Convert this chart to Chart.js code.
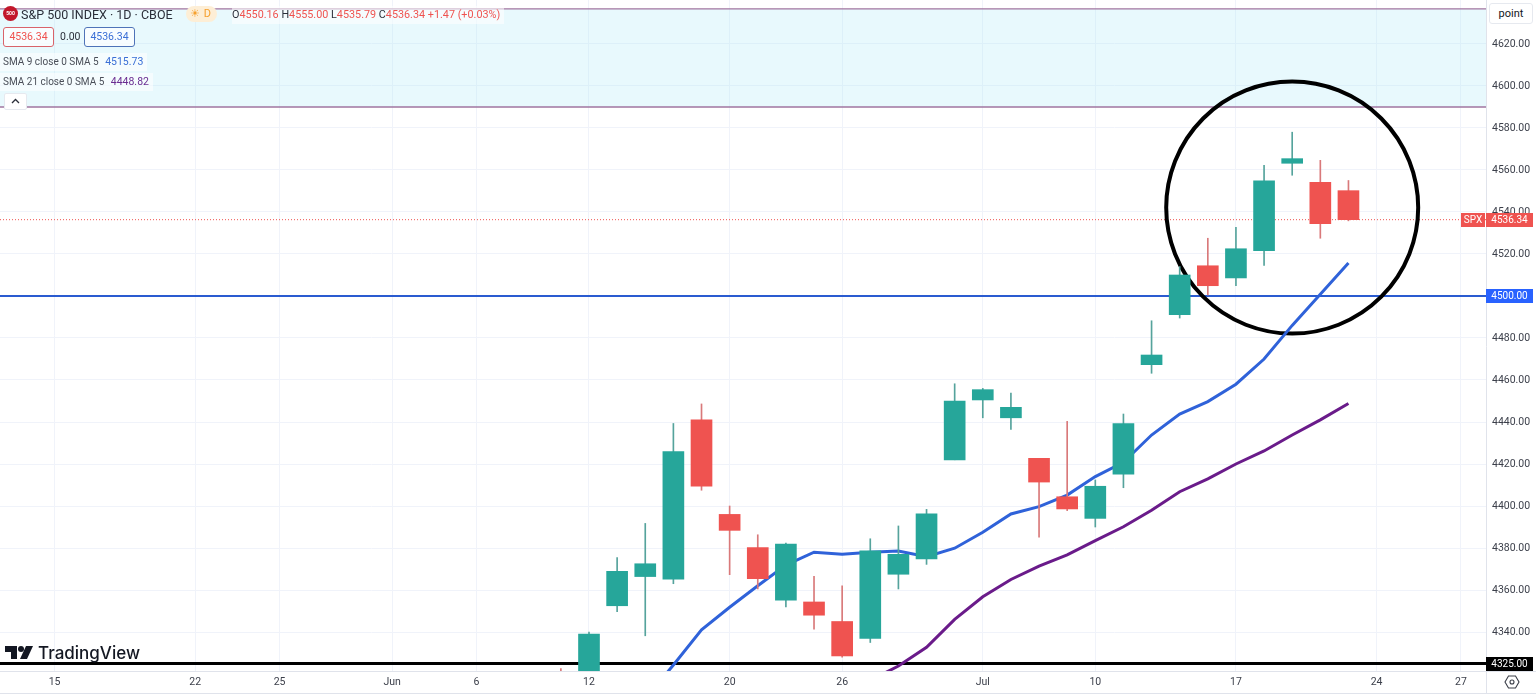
<!DOCTYPE html>
<html>
<head>
<meta charset="utf-8">
<title>S&amp;P 500 INDEX</title>
<script src="https://cdn.jsdelivr.net/npm/chart.js@4"></script>
<style>
  html, body { margin: 0; padding: 0; background: #fff; overflow: hidden; }
  body { width: 1536px; height: 695px; position: relative; font-family: Roboto, sans-serif; color: #131722; }
  #wrap { position: absolute; left: 0; top: 0; width: 1536px; height: 695px; }
  .abs { position: absolute; white-space: nowrap; }
  .row { background: rgba(255,255,255,0.55); font-size: 10px; line-height: 18px; height: 18px; padding: 0 4px 0 3px; color: #4a4e58; }
  .box { border: 1px solid; border-radius: 3px; height: 18px; line-height: 18px; font-size: 10.5px; text-align: center; background: rgba(255,255,255,0.7); }
  .red { color: #ef5350; }
</style>
</head>
<body>
<div id="wrap"><canvas id="chart" width="1536" height="695"></canvas></div>

<!-- 左上角圖例 -->
<div class="abs" style="left:3px;top:6px;width:15px;height:15px;border-radius:50%;background:#c2182b;color:#fff;font-size:5px;font-weight:700;line-height:15px;text-align:center;">500</div>
<div class="abs" style="left:21px;top:5px;font-size:12.5px;line-height:20px;color:#2a2e39;">S&amp;P 500 INDEX · 1D · CBOE</div>
<div class="abs" style="left:186px;top:6px;width:31px;height:16px;border-radius:8px;background:#fdeed6;color:#f6a02d;font-size:11px;line-height:16px;"><span style="margin-left:4px;">☀</span> <span style="margin-left:1px;">D</span></div>
<div class="abs" style="left:232px;top:6px;font-size:10.8px;line-height:18px;color:#2a2e39;background:rgba(255,255,255,0.55);padding-right:4px;">O<span class="red">4550.16</span> H<span class="red">4555.00</span> L<span class="red">4535.79</span> C<span class="red">4536.34</span> <span class="red">+1.47 (+0.03%)</span></div>
<div class="abs box red" style="left:3px;top:27px;width:49px;border-color:#d9636a;">4536.34</div>
<div class="abs" style="left:60px;top:27px;font-size:10.5px;line-height:20px;color:#2a2e39;">0.00</div>
<div class="abs box" style="left:84px;top:27px;width:49px;color:#3b6fd6;border-color:#4f73b8;">4536.34</div>
<div class="abs row" style="left:0;top:53px;">SMA 9 close 0 SMA 5 <span style="color:#3b6fd6;margin-left:4px;font-size:10.5px;">4515.73</span></div>
<div class="abs row" style="left:0;top:73px;">SMA 21 close 0 SMA 5 <span style="color:#6a2c91;margin-left:4px;font-size:10.5px;">4448.82</span></div>
<div class="abs" style="left:4px;top:93px;width:23px;height:17px;background:#fff;border:1px solid #e6e9ef;border-radius:2px;box-sizing:border-box;">
  <svg width="21" height="15"><path d="M7 9 L10.5 5.5 L14 9" fill="none" stroke="#2a2e39" stroke-width="1.3"/></svg>
</div>

<!-- 右上角單位與右下角設定 -->
<div class="abs" style="left:1489px;top:3px;width:44px;height:21px;border:1px solid #e6e9ef;border-radius:3px;box-sizing:border-box;font-size:11px;line-height:19px;text-align:center;background:#fff;">point</div>
<svg class="abs" style="left:1504px;top:674px;" width="16" height="16"><path d="M4.5 2 H11.5 L15 8 L11.5 14 H4.5 L1 8 Z" fill="none" stroke="#3a3e48" stroke-width="1.1"/><circle cx="8" cy="8" r="2" fill="none" stroke="#3a3e48" stroke-width="1.1"/></svg>

<!-- TradingView 標誌 -->
<svg class="abs" style="left:5px;top:645px;" width="30" height="16"><path d="M0 1 H12 V14 H6 V7 H0 Z" fill="#131722"/><circle cx="16" cy="4" r="3" fill="#131722"/><path d="M21 1 H28 L22 14 H15 Z" fill="#131722"/></svg>
<div class="abs" style="left:38px;top:641px;font-family:Inter,sans-serif;font-size:17px;font-weight:500;line-height:24px;color:#131722;">TradingView</div>

<script>
// ── 資料 ──
const categories = [
    'Jun 9', 'Jun 12', 'Jun 13', 'Jun 14', 'Jun 15', 'Jun 16', 'Jun 20', 'Jun 21', 'Jun 22', 'Jun 23',
    'Jun 26', 'Jun 27', 'Jun 28', 'Jun 29', 'Jun 30', 'Jul 3', 'Jul 5', 'Jul 6', 'Jul 7', 'Jul 10',
    'Jul 11', 'Jul 12', 'Jul 13', 'Jul 14', 'Jul 17', 'Jul 18', 'Jul 19', 'Jul 20', 'Jul 21'
];
const opens  = [4304.9, 4308.0, 4352.5, 4366.4, 4365.1, 4441.0, 4396.0, 4380.2, 4355.2, 4354.3,
                4345.0, 4337.0, 4367.5, 4374.8, 4422.0, 4450.5, 4442.0, 4422.7, 4404.4, 4394.1,
                4415.2, 4467.3, 4491.1, 4514.4, 4508.6, 4521.6, 4563.2, 4554.1, 4550.16];
const highs  = [4322.6, 4340.0, 4375.4, 4391.7, 4439.3, 4448.6, 4400.0, 4386.3, 4382.4, 4366.5,
                4362.0, 4384.4, 4390.5, 4398.4, 4458.2, 4456.0, 4453.8, 4422.7, 4440.3, 4412.4,
                4443.8, 4488.2, 4514.0, 4527.5, 4532.7, 4562.2, 4578.0, 4564.6, 4555.00];
const lows   = [4291.7, 4304.0, 4349.7, 4338.2, 4363.0, 4407.5, 4367.3, 4360.5, 4351.9, 4341.4,
                4328.0, 4335.0, 4360.5, 4372.2, 4422.0, 4442.0, 4436.5, 4385.2, 4397.8, 4390.0,
                4408.7, 4463.2, 4489.5, 4500.5, 4504.9, 4514.6, 4557.5, 4527.5, 4535.79];
const closes = [4298.9, 4339.0, 4368.9, 4372.5, 4425.9, 4409.5, 4388.4, 4365.4, 4381.9, 4348.0,
                4328.6, 4378.6, 4377.0, 4396.3, 4450.0, 4455.4, 4447.0, 4411.4, 4398.6, 4409.4,
                4439.2, 4471.9, 4510.0, 4504.9, 4522.5, 4554.9, 4565.4, 4534.4, 4536.34];
const sma9   = [null, null, null, 4308.0, 4324.3, 4341.0, 4351.8, 4362.0, 4371.9, 4378.0,
                4377.0, 4378.0, 4378.6, 4375.9, 4379.9, 4387.5, 4396.2, 4399.7, 4405.2, 4414.0,
                4420.8, 4433.8, 4443.8, 4449.7, 4458.0, 4470.0, 4486.0, 4500.8, 4515.73];
const sma21  = [null, null, null, null, null, null, null, null, null, null,
                null, 4317.0, 4323.8, 4332.7, 4346.0, 4356.8, 4365.0, 4371.4, 4376.7, 4383.5,
                4390.1, 4398.0, 4406.8, 4412.9, 4420.0, 4426.2, 4433.8, 4441.0, 4448.82];

const xTickLabels = ['15', '22', '25', 'Jun', '6', '12', '20', '26', 'Jul', '10', '17', '24', '27'];
const xTickSlots  = [-18, -13, -10, -6, -3, 1, 6, 10, 15, 19, 24, 29, 32];
const yTicks = [4340, 4360, 4380, 4400, 4420, 4440, 4460, 4480, 4500, 4520, 4540, 4560, 4580, 4600, 4620];

const bandLevels = [4590, 4636.7];
const blueLevel  = 4500;
const blackLevel = 4325;
const lastPrice  = 4536.34;

const UP = '#26a69a';
const DOWN = '#ef5350';
const WICK_UP = '#55a39c';
const WICK_DOWN = '#d9797a';
const slots = categories.map((_, i) => i);

// ── 背景圖層：區間、水平線、圓圈（畫在 K 線下方） ──
const backdrop = {
    id: 'backdrop',
    beforeDatasetsDraw(chart) {
        const { ctx, chartArea: a, scales: { x, y } } = chart;
        ctx.save();
        ctx.beginPath();
        ctx.rect(a.left, a.top, a.right - a.left, a.bottom - a.top);
        ctx.clip();

        const bandBottom = y.getPixelForValue(bandLevels[0]);
        const bandTop = y.getPixelForValue(bandLevels[1]);
        ctx.fillStyle = 'rgba(178, 235, 248, 0.3)';
        ctx.fillRect(a.left, bandTop, a.right - a.left, bandBottom - bandTop);

        const hline = (value, color, width, dash) => {
            const py = y.getPixelForValue(value);
            ctx.strokeStyle = color;
            ctx.lineWidth = width;
            ctx.setLineDash(dash || []);
            ctx.beginPath();
            ctx.moveTo(a.left, py);
            ctx.lineTo(a.right, py);
            ctx.stroke();
            ctx.setLineDash([]);
        };
        hline(bandLevels[0], '#a0749f', 1.5);
        hline(bandLevels[1], '#a0749f', 1.2);
        hline(lastPrice, DOWN, 1, [1, 2]);
        hline(blueLevel, '#2a5bd0', 2);
        hline(blackLevel, '#000', 3);

        // 圓圈
        const cx = x.getPixelForValue(26);
        const cy = y.getPixelForValue(4542.1);
        ctx.strokeStyle = '#000';
        ctx.lineWidth = 4;
        ctx.beginPath();
        ctx.arc(cx, cy, 126, 0, Math.PI * 2);
        ctx.stroke();
        ctx.restore();
    }
};

// ── 座標軸標籤與邊框 ──
const axisTags = {
    id: 'axisTags',
    afterDraw(chart) {
        const { ctx, chartArea: a, scales: { y } } = chart;
        ctx.save();
        ctx.strokeStyle = '#e0e3eb';
        ctx.lineWidth = 1;
        ctx.beginPath();
        ctx.moveTo(a.right + 0.5, 0);
        ctx.lineTo(a.right + 0.5, 693);
        ctx.moveTo(0, a.bottom + 0.5);
        ctx.lineTo(1536, a.bottom + 0.5);
        ctx.moveTo(0, 693.5);
        ctx.lineTo(1536, 693.5);
        ctx.stroke();

        ctx.font = '10px Roboto';
        ctx.textBaseline = 'middle';
        ctx.textAlign = 'center';
        const tag = (left, width, value, text, color) => {
            const py = Math.round(y.getPixelForValue(value));
            ctx.fillStyle = color;
            ctx.fillRect(left, py - 7, width, 14);
            ctx.fillStyle = '#fff';
            ctx.fillText(text, left + width / 2, py);
        };
        tag(1461, 24, lastPrice, 'SPX', DOWN);
        tag(1486, 47, lastPrice, lastPrice.toFixed(2), DOWN);
        tag(1486, 47, blueLevel, blueLevel.toFixed(2), '#2962ff');
        tag(1486, 47, blackLevel, blackLevel.toFixed(2), '#000');
        ctx.restore();
    }
};

new Chart(document.getElementById('chart').getContext('2d'), {
    data: {
        datasets: [
            {
                type: 'line',
                data: slots.map(i => ({ x: i, y: sma21[i] })),
                borderColor: '#6a1b8a',
                borderWidth: 3,
                pointRadius: 0,
                order: 4
            },
            {
                type: 'line',
                data: slots.map(i => ({ x: i, y: sma9[i] })),
                borderColor: '#2f62d9',
                borderWidth: 3,
                pointRadius: 0,
                order: 3
            },
            {
                type: 'bar',
                grouped: false,
                data: slots.map(i => ({ x: i, y: [lows[i], highs[i]] })),
                backgroundColor: slots.map(i => closes[i] >= opens[i] ? WICK_UP : WICK_DOWN),
                barThickness: 1,
                order: 2
            },
            {
                type: 'bar',
                grouped: false,
                data: slots.map(i => ({ x: i, y: [opens[i], closes[i]] })),
                backgroundColor: slots.map(i => closes[i] >= opens[i] ? UP : DOWN),
                barThickness: 21,
                order: 1
            }
        ]
    },
    options: {
        responsive: false,
        animation: false,
        layout: { padding: 0, autoPadding: false },
        plugins: { legend: { display: false }, tooltip: { enabled: false } },
        scales: {
            x: {
                type: 'linear',
                offset: false,
                min: -19.94,
                max: 32.89,
                afterFit: s => { s.height = 24; s.paddingLeft = 0; s.paddingRight = 0; },
                afterBuildTicks: s => { s.ticks = xTickSlots.map(v => ({ value: v })); },
                grid: { color: '#f0f3fa', drawTicks: false, offset: false },
                border: { display: false },
                ticks: {
                    autoSkip: false,
                    maxRotation: 0,
                    padding: 5,
                    color: '#3b3f4a',
                    font: { family: 'Roboto', size: 10.5 },
                    callback: v => xTickLabels[xTickSlots.indexOf(v)]
                }
            },
            y: {
                type: 'linear',
                position: 'right',
                offset: false,
                min: 4321.43,
                max: 4640.95,
                afterFit: s => { s.width = 50; s.paddingTop = 0; s.paddingBottom = 0; },
                afterBuildTicks: s => { s.ticks = yTicks.map(v => ({ value: v })); },
                grid: { color: '#f0f3fa', drawTicks: false },
                border: { display: false },
                ticks: {
                    autoSkip: false,
                    padding: 6,
                    color: '#3b3f4a',
                    font: { family: 'Roboto', size: 10.5 },
                    callback: v => v.toFixed(2)
                }
            }
        }
    },
    plugins: [backdrop, axisTags]
});
</script>
</body>
</html>
